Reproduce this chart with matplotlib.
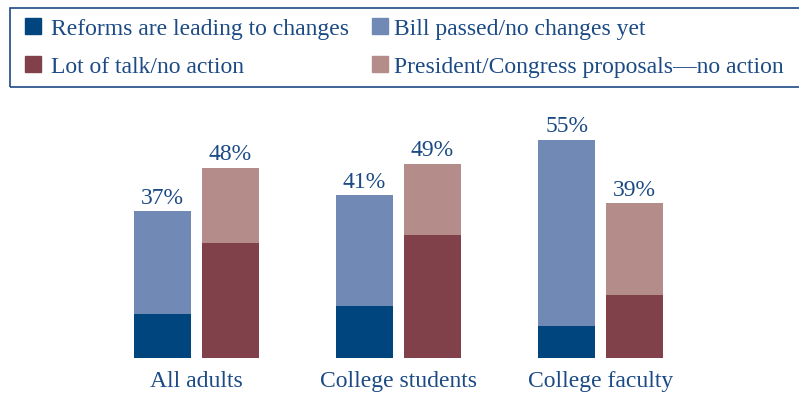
import numpy as np
from matplotlib import pyplot as plt
from matplotlib.patches import Rectangle

groups = ["All adults", "College students", "College faculty"]

# left bar of each group
reforms = [11, 13, 8]
bill_passed = [26, 28, 47]
# right bar of each group
talk = [29, 31, 16]
proposals = [19, 18, 23]

legend_labels = ["Reforms are leading to changes", "Bill passed/no changes yet",
                 "Lot of talk/no action", "President/Congress proposals\u2014no action"]

dark_blue = "#00457e"
light_blue = "#7189b5"
dark_red = "#80414a"
pink = "#b48c89"
text_col = "#1b4a85"

plt.rcParams["font.family"] = ["Liberation Serif", "DejaVu Serif"]
fs = 17

fig = plt.figure(figsize=(7.99, 3.93), dpi=100)
ax = fig.add_axes([0, 35/393, 1, 258/393])

x = np.arange(len(groups))
w = 0.282
off = 0.168

left_tot = np.array(reforms) + np.array(bill_passed)
right_tot = np.array(talk) + np.array(proposals)

ax.bar(x - off, reforms, w, color=dark_blue)
ax.bar(x - off, bill_passed, w, bottom=reforms, color=light_blue)
ax.bar(x + off, talk, w, color=dark_red)
ax.bar(x + off, proposals, w, bottom=talk, color=pink)

for i in range(len(groups)):
    ax.annotate(f"{left_tot[i]}%", (x[i] - off, left_tot[i]), xytext=(0, 5.5),
                textcoords="offset points", ha="center", va="baseline",
                fontsize=fs, color=text_col)
    ax.annotate(f"{right_tot[i]}%", (x[i] + off, right_tot[i]), xytext=(0, 5.5),
                textcoords="offset points", ha="center", va="baseline",
                fontsize=fs, color=text_col)
    ax.annotate(groups[i], (x[i], 0), xycoords=("data", "axes fraction"),
                xytext=(0, -21), textcoords="offset points", ha="center",
                va="baseline", fontsize=fs, color=text_col)

ax.set_xlim(-196.5/202, 602.5/202)
ax.set_ylim(0, 65.07)
ax.axis("off")

# legend box, runs off the right edge
H = 393
fig.patches.append(Rectangle((10/799, 1 - 87/H), 1, 79/H, transform=fig.transFigure,
                             fill=False, edgecolor=text_col, linewidth=1.2))
cols = [dark_blue, light_blue, dark_red, pink]
mx = [25, 372]
tx = [51, 394]
base = [35, 73]
for k in range(4):
    r, c = divmod(k, 2)
    fig.patches.append(Rectangle((mx[c]/799, 1 - (base[r] - 1)/H), 16/799, 16/H,
                                 transform=fig.transFigure, color=cols[k]))
    fig.text(tx[c]/799, 1 - base[r]/H, legend_labels[k], fontsize=fs,
             color=text_col, va="baseline", ha="left")

plt.savefig("out.png", dpi=100)
